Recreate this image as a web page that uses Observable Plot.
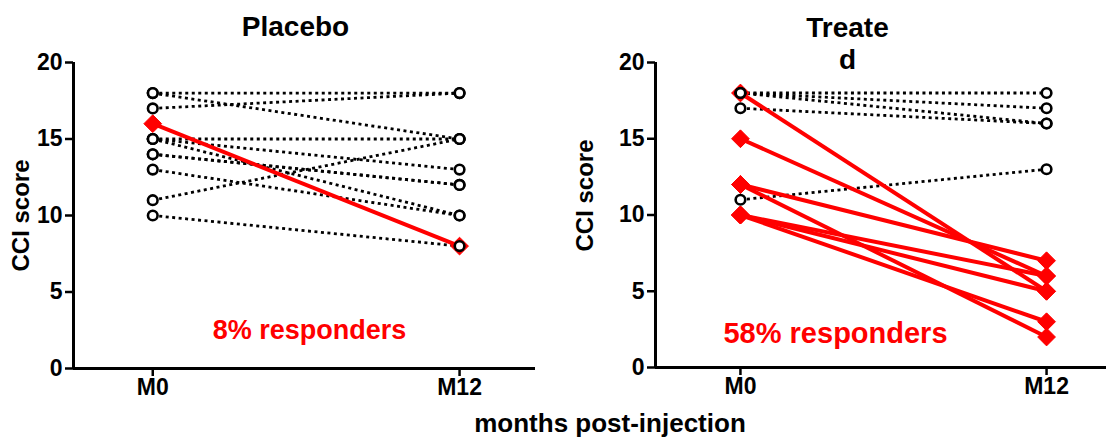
<!DOCTYPE html>
<html>
<head>
<meta charset="utf-8">
<script src="https://cdn.jsdelivr.net/npm/d3@7"></script>
<script src="https://cdn.jsdelivr.net/npm/@observablehq/plot@0.6"></script>
<style>
  body { margin: 0; background: white; }
  #wrap { position: relative; width: 1106px; height: 439px; font-family: "Liberation Sans", Arial, sans-serif; }
  #wrap svg { position: absolute; top: 0; }
  #xlabel { position: absolute; left: 0; width: 1220px; top: 408px; text-align: center; font-weight: bold; font-size: 26px; }
</style>
</head>
<body>
<div id="wrap"></div>
<script>
// ---- data ----
const months = [0, 12];
const tickLabels = ["M0", "M12"];
const yTicks = [0, 5, 10, 15, 20];

const placeboM0        = [18, 18, 17, 15, 15, 15, 14, 14, 13, 11, 10, 16];
const placeboM12       = [18, 15, 18, 15, 13, 10, 12, 12, 10, 15,  8,  8];
const placeboResponder = [ 0,  0,  0,  0,  0,  0,  0,  0,  0,  0,  0,  1];

const treatedM0        = [18, 18, 18, 17, 11, 18, 15, 12, 12, 10, 10, 10];
const treatedM12       = [18, 17, 16, 16, 13,  5,  6,  7,  2,  6,  3,  5];
const treatedResponder = [ 0,  0,  0,  0,  0,  1,  1,  1,  1,  1,  1,  1];

const panelTitles = ["Placebo", "Treate\nd"];
const responderLabels = ["8% responders", "58% responders"];
const yLabel = "CCI score";
const xLabel = "months post-injection";

// ---- helpers ----
const RED = "#ff0000";
const FONT = "Liberation Sans, Arial, sans-serif";

function buildRows(m0, m12, resp) {
  return m0.map((v, i) => ({ m0: v, m12: m12[i], responder: resp[i] === 1 }));
}
function buildPoints(rows) {
  const pts = [];
  rows.forEach(r => {
    pts.push({ month: months[0], score: r.m0, responder: r.responder });
    pts.push({ month: months[1], score: r.m12, responder: r.responder });
  });
  return pts;
}

function panel(cfg) {
  const rows = buildRows(cfg.m0, cfg.m12, cfg.resp);
  const pts = buildPoints(rows);
  const x0 = cfg.xDomain[0];
  return Plot.plot({
    width: 553,
    height: 439,
    marginLeft: cfg.marginLeft,
    marginRight: cfg.marginRight,
    marginTop: 62,
    marginBottom: cfg.marginBottom,
    style: { fontFamily: FONT, fontWeight: "bold", background: "white", overflow: "visible" },
    x: { domain: cfg.xDomain, axis: null },
    y: { domain: [0, 20], axis: null },
    marks: [
      Plot.axisY(yTicks, { tickSize: 8, strokeWidth: 2.5, label: null, tickFormat: () => "" }),
      Plot.axisX(months, { tickSize: 8, strokeWidth: 2.5, label: null, tickFormat: () => "" }),
      Plot.text(yTicks, { x: () => x0, y: d => d, text: d => String(d), dx: -11, textAnchor: "end",
        lineAnchor: "middle", fontSize: 23, fontWeight: "bold", fill: "black" }),
      Plot.text(months, { x: d => d, frameAnchor: "bottom", text: (d, i) => tickLabels[i], dy: 19,
        lineAnchor: "middle", fontSize: 23, fontWeight: "bold", fill: "black" }),
      Plot.ruleX([x0], { y1: 0, y2: 20, stroke: "black", strokeWidth: 3 }),
      Plot.ruleY([0], { stroke: "black", strokeWidth: 3 }),
      Plot.link(rows.filter(r => !r.responder), {
        x1: () => months[0], x2: () => months[1], y1: "m0", y2: "m12",
        stroke: "black", strokeWidth: 2.8, strokeDasharray: "3,3.5"
      }),
      Plot.link(rows.filter(r => r.responder), {
        x1: () => months[0], x2: () => months[1], y1: "m0", y2: "m12",
        stroke: RED, strokeWidth: 4
      }),
      Plot.dot(pts.filter(p => p.responder), { x: "month", y: "score", symbol: "diamond2", r: 8, fill: RED, stroke: RED, strokeWidth: 1 }),
      Plot.dot(pts.filter(p => !p.responder), { x: "month", y: "score", symbol: "circle", r: 4.8, fill: "white", stroke: "black", strokeWidth: 2.6 }),
      Plot.text([cfg.title], { frameAnchor: "top-left", dx: cfg.titleDx, dy: cfg.titleDy, text: d => d,
        fontSize: 28, fontWeight: "bold", fill: "black", textAnchor: "middle", lineAnchor: "middle", lineHeight: 1.15 }),
      Plot.text([yLabel], { frameAnchor: "top-left", dx: cfg.yLabelDx, dy: cfg.yLabelDy, text: d => d, rotate: -90,
        fontSize: 24, fontWeight: "bold", fill: "black", textAnchor: "middle", lineAnchor: "middle" }),
      Plot.text([cfg.responder], { frameAnchor: "bottom-left", dx: cfg.respDx, dy: cfg.respDy, text: d => d,
        fontSize: cfg.respSize, fontWeight: "bold", fill: RED, textAnchor: "middle", lineAnchor: "middle" })
    ]
  });
}

const wrap = document.getElementById("wrap");

const p1 = panel({
  m0: placeboM0, m12: placeboM12, resp: placeboResponder,
  marginLeft: 73, marginRight: 18, marginBottom: 71,
  xDomain: [-3.1, 14.97],
  title: panelTitles[0], titleDx: 222, titleDy: -37,
  yLabelDx: -52, yLabelDy: 153,
  responder: responderLabels[0], respDx: 236, respDy: -38, respSize: 27
});
p1.style.left = "0px";
wrap.appendChild(p1);

const p2 = panel({
  m0: treatedM0, m12: treatedM12, resp: treatedResponder,
  marginLeft: 102, marginRight: 0, marginBottom: 72,
  xDomain: [-3.33, 14.35],
  title: panelTitles[1], titleDx: 192, titleDy: -20,
  yLabelDx: -70, yLabelDy: 133,
  responder: responderLabels[1], respDx: 180, respDy: -34, respSize: 29
});
p2.style.left = "553px";
wrap.appendChild(p2);

const xl = document.createElement("div");
xl.id = "xlabel";
xl.textContent = xLabel;
wrap.appendChild(xl);
</script>
</body>
</html>
